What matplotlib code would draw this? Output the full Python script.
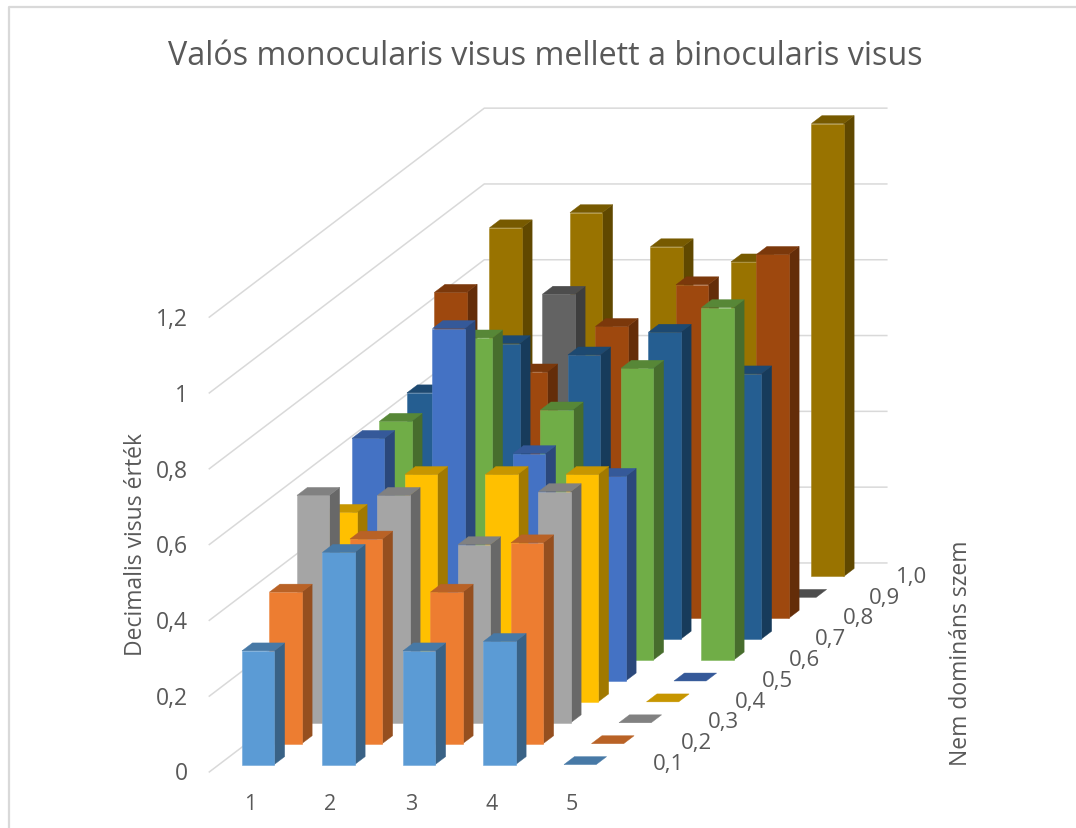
import numpy as np
import matplotlib
matplotlib.use("Agg")
import matplotlib.pyplot as plt
from matplotlib.patches import Polygon

categories = ["1", "2", "3", "4", "5"]
series_names = ["0,1", "0,2", "0,3", "0,4", "0,5", "0,6", "0,7", "0,8", "0,9", "1,0"]
value_ticks = [0, 0.2, 0.4, 0.6, 0.8, 1, 1.2]
value_labels = ["0", "0,2", "0,4", "0,6", "0,8", "1", "1,2"]

# one list per non dominant eye value
s01 = [0.30, 0.56, 0.30, 0.325, 0]
s02 = [0.40, 0.54, 0.40, 0.53, 0]
s03 = [0.60, 0.60, 0.47, 0.61, 0]
s04 = [0.50, 0.60, 0.60, 0.60, 0]
s05 = [0.64, 0.93, 0.60, 0.54, 0]
s06 = [0.63, 0.85, 0.66, 0.77, 0.93]
s07 = [0.65, 0.78, 0.75, 0.81, 0.70]
s08 = [0.86, 0.65, 0.77, 0.88, 0.96]
s09 = [0, 0.80, 0, 0, 0]
s10 = [0.92, 0.96, 0.87, 0.83, 1.195]

colors = ["#5B9BD5", "#ED7D31", "#A5A5A5", "#FFC000", "#4472C4",
          "#70AD47", "#255E91", "#9E480E", "#636363", "#997300"]

W, H = 1076, 829
GREY = "#595959"
FONT = "Open Sans"


def project(c, d, v):
    # oblique projection: category, depth, value -> pixel position
    return 263.3 + 80.5 * c + 27.5 * d, 761.6 - 20.9 * d - 379.0 * v


def shade(color, k):
    rgb = np.array(matplotlib.colors.to_rgb(color))
    return tuple(rgb * k)


def tint(color, k):
    rgb = np.array(matplotlib.colors.to_rgb(color))
    return tuple(rgb + (1 - rgb) * k)


def draw_bar(ax, c, d, v, color):
    hw, hd = 0.2, 0.19
    p = lambda cc, dd, vv: project(c + cc, d + dd, vv)
    front = [p(-hw, -hd, 0), p(hw, -hd, 0), p(hw, -hd, v), p(-hw, -hd, v)]
    top = [p(-hw, -hd, v), p(hw, -hd, v), p(hw, hd, v), p(-hw, hd, v)]
    if v > 0:
        side = [p(hw, -hd, 0), p(hw, hd, 0), p(hw, hd, v), p(hw, -hd, v)]
        ax.add_patch(Polygon(side, closed=True, fc=shade(color, 0.63), ec=shade(color, 0.63), lw=0.3, zorder=3))
        ax.add_patch(Polygon(front, closed=True, fc=color, ec=tint(color, 0.12), lw=0.4, zorder=3))
    ax.add_patch(Polygon(top, closed=True, fc=shade(color, 0.78), ec=shade(color, 0.78), lw=0.3, zorder=3))


fig = plt.figure(figsize=(W / 100, H / 100), dpi=100)
ax = fig.add_axes([0, 0, 1, 1])
ax.set_xlim(0, W)
ax.set_ylim(H, 0)
ax.axis("off")

# chart frame
ax.plot([8.7, 8.7, 1076], [829, 8, 8], color="#D9D9D9", lw=1.6, zorder=1)

# gridlines on side wall and back wall
for v in value_ticks:
    pts = [project(-0.5, -0.5, v), project(-0.5, 9.5, v), project(4.5, 9.5, v)]
    ax.plot([q[0] for q in pts], [q[1] + 0.9 for q in pts], color="#D9D9D9", lw=1.1, zorder=1)

all_series = [s01, s02, s03, s04, s05, s06, s07, s08, s09, s10]
for d in range(len(all_series) - 1, -1, -1):
    for c, v in enumerate(all_series[d]):
        draw_bar(ax, c, d, v, colors[d])

ax.text(545, 56, "Valós monocularis visus mellett a binocularis visus", fontsize=23.2,
        color=GREY, family=FONT, ha="center", va="center")

for v, lab in zip(value_ticks, value_labels):
    ax.text(188, 771.5 - 378.5 * v, lab, fontsize=16.5, color=GREY, family=FONT,
            ha="right", va="center_baseline")
for i, lab in enumerate(categories):
    ax.text(250 + 80.4 * i, 802, lab, fontsize=15.5, color=GREY, family=FONT,
            ha="center", va="center_baseline")
for i, lab in enumerate(series_names):
    ax.text(669 + 27 * i, 762 - 20.8 * i, lab, fontsize=16, color=GREY, family=FONT,
            ha="center", va="center_baseline")

ax.text(136, 544, "Decimalis visus érték", fontsize=16.5, color=GREY, family=FONT,
        rotation=90, ha="center", va="center")
ax.text(961, 653, "Nem domináns szem", fontsize=16.5, color=GREY, family=FONT,
        rotation=90, ha="center", va="center")

fig.savefig("out.png", dpi=100)
